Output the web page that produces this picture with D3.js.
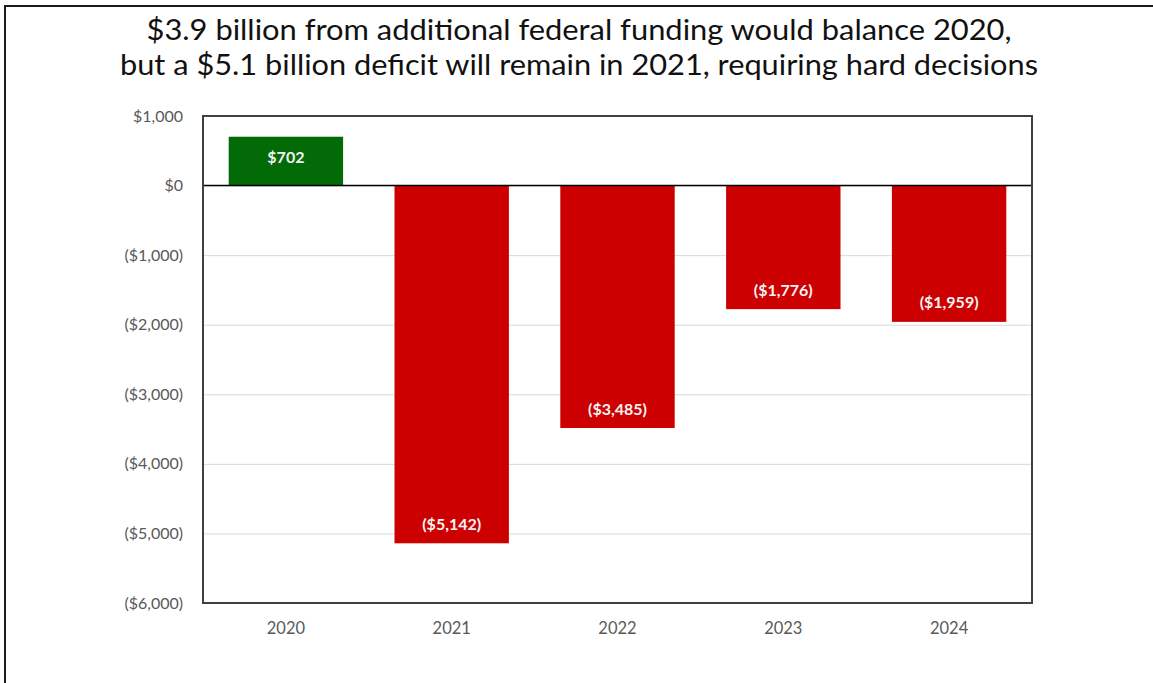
<!DOCTYPE html>
<html>
<head>
<meta charset="utf-8">
<script src="https://cdn.jsdelivr.net/npm/d3@7"></script>
<style>
  html, body { margin: 0; padding: 0; background: #fff; }
  svg { display: block; }
</style>
</head>
<body>
<script>
// Budget surplus / deficit by year, $ millions
const years = ["2020", "2021", "2022", "2023", "2024"];
const values = [702, -5142, -3485, -1776, -1959];
const yTicks = [1000, 0, -1000, -2000, -3000, -4000, -5000, -6000];
const titleLines = [
  "$3.9 billion from additional federal funding would balance 2020,",
  "but a $5.1 billion deficit will remain in 2021, requiring hard decisions"
];
const titleWidths = [865, 918];

const W = 1153, H = 683;
const plot = { left: 203, right: 1032, top: 116, bottom: 603 };
const font = "Lato, 'Open Sans', sans-serif";

const svg = d3.select("body").append("svg")
  .attr("width", W).attr("height", H);

// outer frame
svg.append("path")
  .attr("d", `M5,${H} V6 H${W}`)
  .attr("fill", "none").attr("stroke", "#1a1a1a").attr("stroke-width", 2);

// title
svg.append("g").selectAll("text").data(titleLines).join("text")
  .attr("x", 579).attr("y", (d, i) => 40 + i * 35)
  .attr("text-anchor", "middle")
  .attr("font-family", font)
  .attr("font-size", 29)
  .attr("fill", "#111")
  .attr("textLength", (d, i) => titleWidths[i])
  .attr("lengthAdjust", "spacingAndGlyphs")
  .text(d => d);

const x = d3.scaleBand().domain(years)
  .range([plot.left, plot.right])
  .paddingInner(0.31).paddingOuter(0.155);
const y = d3.scaleLinear().domain([-6000, 1000])
  .range([plot.bottom, plot.top]);

const fmt = v => {
  const s = "$" + d3.format(",")(Math.abs(v));
  return v < 0 ? "(" + s + ")" : s;
};

// gridlines
svg.append("g")
  .attr("transform", `translate(${plot.left},0)`)
  .call(d3.axisLeft(y).tickValues(yTicks).tickSize(-(plot.right - plot.left)).tickFormat(""))
  .call(g => g.select(".domain").remove())
  .call(g => g.selectAll("line").attr("stroke", "#d9d9d9").attr("stroke-width", 1));

// y tick labels
svg.append("g")
  .attr("transform", `translate(${plot.left},0)`)
  .call(d3.axisLeft(y).tickValues(yTicks).tickSize(0).tickPadding(20).tickFormat(fmt))
  .call(g => g.select(".domain").remove())
  .call(g => g.selectAll("text")
    .attr("font-family", font)
    .attr("font-size", 16).attr("fill", "#595959"));

// x tick labels
svg.append("g")
  .attr("transform", `translate(0,${plot.bottom})`)
  .call(d3.axisBottom(x).tickSize(0).tickPadding(19))
  .call(g => g.select(".domain").remove())
  .call(g => g.selectAll("text")
    .attr("font-family", font)
    .attr("font-size", 16.5).attr("fill", "#595959"));

// bars
svg.append("g").selectAll("rect").data(years).join("rect")
  .attr("x", d => x(d))
  .attr("width", x.bandwidth())
  .attr("y", (d, i) => y(Math.max(0, values[i])))
  .attr("height", (d, i) => Math.abs(y(values[i]) - y(0)))
  .attr("fill", (d, i) => values[i] >= 0 ? "#036a08" : "#cc0000");

// value labels, inside the bar end
svg.append("g").selectAll("text").data(years).join("text")
  .attr("x", d => x(d) + x.bandwidth() / 2)
  .attr("y", (d, i) => y(values[i]) + (values[i] >= 0 ? 21 : -19))
  .attr("dy", "0.35em")
  .attr("text-anchor", "middle")
  .attr("font-family", font)
  .attr("font-weight", "bold")
  .attr("font-size", 16)
  .attr("fill", "#f4f4f4")
  .text((d, i) => fmt(values[i]));

// zero line
svg.append("line")
  .attr("x1", plot.left).attr("x2", plot.right)
  .attr("y1", y(0)).attr("y2", y(0))
  .attr("stroke", "#000").attr("stroke-width", 1.5);

// plot frame
svg.append("rect")
  .attr("x", plot.left).attr("y", plot.top)
  .attr("width", plot.right - plot.left).attr("height", plot.bottom - plot.top)
  .attr("fill", "none").attr("stroke", "#404040").attr("stroke-width", 2);
</script>
</body>
</html>
